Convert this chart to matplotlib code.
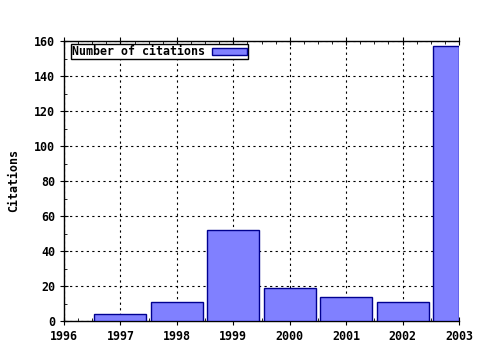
import matplotlib
matplotlib.use("Agg")
import matplotlib.pyplot as plt
from matplotlib.ticker import MultipleLocator

years = [1997, 1998, 1999, 2000, 2001, 2002, 2003]
citations = [4, 11, 52, 19, 14, 11, 157]

plt.rcParams["font.family"] = "DejaVu Sans Mono"
plt.rcParams["font.weight"] = "bold"
plt.rcParams["font.size"] = 8.4

fig = plt.figure(figsize=(4.8, 3.5), dpi=100)
ax = fig.add_axes([64 / 480, 29 / 350, 395 / 480, 280 / 350])

x_lo, x_hi = 1996, 2003
bar_w = 0.92
# the last bar is cut at the right edge of the plot, edge included
lefts = [y - bar_w / 2 for y in years]
widths = [min(bar_w, x_hi - l) for l in lefts]
ax.bar(lefts, citations, width=widths, align="edge", color="#8080ff",
       edgecolor="#000090", linewidth=1.0, label="Number of citations", zorder=3)

ax.set_xlim(x_lo, x_hi)
ax.set_ylim(0, 160)
ax.xaxis.set_major_locator(MultipleLocator(1))
ax.xaxis.set_minor_locator(MultipleLocator(0.25))
ax.yaxis.set_major_locator(MultipleLocator(20))
ax.yaxis.set_minor_locator(MultipleLocator(10))
ax.tick_params(which="major", direction="inout", length=6, width=0.8)
ax.tick_params(which="minor", direction="in", length=2.5, width=0.6)
ax.tick_params(axis="both", top=True, right=False, which="both")
ax.grid(True, which="major", color="black", linestyle=(0, (2, 3)), linewidth=0.8, zorder=0)

for lbl in ax.get_xticklabels() + ax.get_yticklabels():
    lbl.set_fontweight("bold")

ax.set_ylabel("Citations", fontweight="bold", labelpad=10)
for s in ax.spines.values():
    s.set_linewidth(1.0)
ax.spines["right"].set_visible(False)

leg = ax.legend(loc="upper left", bbox_to_anchor=(7 / 395, 1 - 3 / 280),
                markerfirst=False, fancybox=False,
                edgecolor="black", framealpha=1, borderpad=0.1,
                handlelength=3.0, handleheight=0.55, handletextpad=0.6,
                borderaxespad=0.0,
                prop={"weight": "bold", "size": 8.4})
leg.get_frame().set_linewidth(1.0)

fig.savefig("out.png", dpi=100)
